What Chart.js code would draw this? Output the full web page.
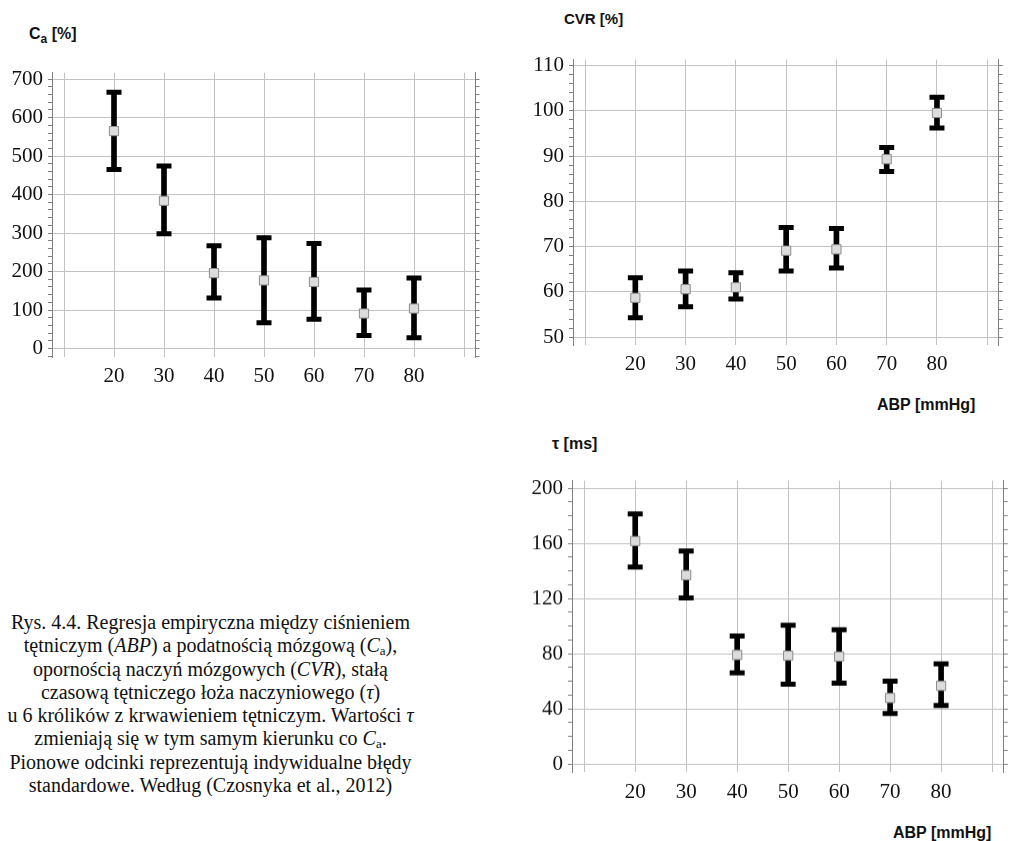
<!DOCTYPE html>
<html>
<head>
<meta charset="utf-8">
<script src="https://cdn.jsdelivr.net/npm/chart.js@4/dist/chart.umd.min.js"></script>
<style>
  body { margin: 0; background: #fff; width: 1011px; height: 841px; overflow: hidden; position: relative; }
  .box { position: absolute; }
  .lbl { position: absolute; font-family: "Liberation Sans", Arial, sans-serif; font-weight: bold; font-size: 15px; color: #111; white-space: nowrap; }
  .lbl sub { font-size: 12px; vertical-align: -4px; line-height: 0; }
  #caption { position: absolute; left: 0; top: 611px; width: 421px; text-align: center;
    font-family: "Liberation Serif", "Times New Roman", serif; font-size: 20px; line-height: 23.3px; color: #111; }
  #caption sub { font-size: 13px; vertical-align: -3px; line-height: 0; }
</style>
</head>
<body>

<div class="box" id="b1" style="left:4px; top:55px; width:484px; height:342px;"><canvas id="caChart"></canvas></div>
<div class="box" id="b2" style="left:524.7px; top:41.7px; width:486.3px; height:343.3px;"><canvas id="cvrChart"></canvas></div>
<div class="box" id="b3" style="left:523.7px; top:463.3px; width:492.3px; height:348.4px;"><canvas id="tauChart"></canvas></div>

<div class="lbl" style="left:29px; top:25px; font-size:16px;">C<sub>a</sub> [%]</div>
<div class="lbl" style="left:564px; top:10px;">CVR [%]</div>
<div class="lbl" style="left:552px; top:435px; font-size:16px;">τ [ms]</div>
<div class="lbl" style="left:877px; top:396px; font-size:16px;">ABP [mmHg]</div>
<div class="lbl" style="left:893px; top:824px; font-size:16px;">ABP [mmHg]</div>

<div id="caption">
  Rys. 4.4. Regresja empiryczna między ciśnieniem<br>
  tętniczym (<i>ABP</i>) a podatnością mózgową (<i>C</i><sub>a</sub>),<br>
  opornością naczyń mózgowych (<i>CVR</i>), stałą<br>
  czasową tętniczego łoża naczyniowego (<i>τ</i>)<br>
  u 6 królików z krwawieniem tętniczym. Wartości <i>τ</i><br>
  zmieniają się w tym samym kierunku co <i>C</i><sub>a</sub>.<br>
  Pionowe odcinki reprezentują indywidualne błędy<br>
  standardowe. Według (Czosnyka et al., 2012)
</div>

<script>
// ABP [mmHg]
const abp = [20, 30, 40, 50, 60, 70, 80];
const xGrid = [10, 20, 30, 40, 50, 60, 70, 80, 90];

// Ca [%]
const caMean = [565, 384, 196, 177, 173, 91, 104];
const caLow  = [465, 298, 131, 67, 76, 34, 28];
const caHigh = [666, 474, 267, 288, 273, 152, 183];
const caTicks = [0, 100, 200, 300, 400, 500, 600, 700];

// CVR [%]
const cvrMean = [58.7, 60.6, 61.0, 69.1, 69.4, 89.3, 99.5];
const cvrLow  = [54.3, 56.7, 58.4, 64.6, 65.3, 86.6, 96.2];
const cvrHigh = [63.1, 64.6, 64.2, 74.2, 74.0, 91.9, 103.0];
const cvrTicks = [50, 60, 70, 80, 90, 100, 110];

// tau [ms]
const tauMean = [161.7, 137, 79.1, 78.6, 78, 47.9, 56.7];
const tauLow  = [142.9, 120.4, 66.1, 57.9, 58.6, 36.6, 42.5];
const tauHigh = [181.3, 154.4, 92.8, 100.6, 97.3, 60.2, 72.7];
const tauTicks = [0, 40, 80, 120, 160, 200];

const gridColor = "#c2c2c2";
const axisColor = "#808080";
const tickFont = { family: "'Liberation Serif', 'Times New Roman', serif", size: 21 };

// podzialka pomocnicza (co step) w zakresie osi
function minorValues(min, max, step) {
  const out = [];
  for (let k = Math.ceil(min / step); k <= Math.floor(max / step); k++) out.push(+(k * step).toFixed(6));
  return out;
}

function errorChart(id, mean, low, high, yMin, yMax, major, minorStep) {
  const isMajor = v => major.some(m => Math.abs(m - v) < 1e-6);
  const yVals = minorValues(yMin, yMax, minorStep);

  return new Chart(document.getElementById(id), {
    type: "scatter",
    data: {
      datasets: [
        {
          label: "srednia",
          data: abp.map((x, i) => ({ x, y: mean[i] })),
          pointStyle: "rect",
          pointRadius: 6.5,
          pointBackgroundColor: "#dcdcdc",
          pointBorderColor: "#8c8c8c",
          pointBorderWidth: 1,
          order: 0
        },
        {
          label: "gorny",
          data: abp.map((x, i) => ({ x, y: high[i] })),
          pointStyle: "line",
          pointRadius: 7.5,
          pointBorderColor: "#000",
          pointBorderWidth: 5,
          order: 1
        },
        {
          label: "dolny",
          data: abp.map((x, i) => ({ x, y: low[i] })),
          pointStyle: "line",
          pointRadius: 7.5,
          pointBorderColor: "#000",
          pointBorderWidth: 5,
          order: 1
        },
        {
          type: "bar",
          label: "blad",
          data: abp.map((x, i) => ({ x, y: [low[i], high[i]] })),
          backgroundColor: "#000",
          barThickness: 5,
          grouped: false,
          borderSkipped: false,
          order: 2
        }
      ]
    },
    options: {
      responsive: true,
      maintainAspectRatio: false,
      animation: false,
      layout: { padding: { top: 10, left: 0, right: 0, bottom: 0 } },
      plugins: { legend: { display: false }, tooltip: { enabled: false } },
      scales: {
        x: {
          type: "linear",
          min: 7.6,
          max: 92.3,
          offset: false,
          afterBuildTicks: s => { s.ticks = xGrid.map(v => ({ value: v })); },
          afterFit: s => { s.height = 40; },
          grid: { color: gridColor, drawTicks: false, offset: false },
          border: { display: false },
          ticks: {
            autoSkip: false,
            maxRotation: 0,
            padding: 7,
            color: "#111",
            font: tickFont,
            callback: v => abp.includes(v) ? String(v) : ""
          }
        },
        y: {
          type: "linear",
          position: "left",
          min: yMin,
          max: yMax,
          beginAtZero: false,
          afterBuildTicks: s => { s.ticks = yVals.map(v => ({ value: v })); },
          afterFit: s => { s.width = 48; },
          grid: {
            color: c => isMajor(c.tick.value) ? gridColor : "rgba(0,0,0,0)",
            tickColor: axisColor,
            tickLength: 4
          },
          border: { display: true, color: axisColor },
          ticks: {
            autoSkip: false,
            padding: 5,
            color: "#111",
            font: tickFont,
            callback: v => isMajor(v) ? String(v) : ""
          }
        },
        yr: {
          type: "linear",
          position: "right",
          min: yMin,
          max: yMax,
          afterBuildTicks: s => { s.ticks = yVals.map(v => ({ value: v })); },
          afterFit: s => { s.width = 6; },
          grid: { drawOnChartArea: false, tickColor: axisColor, tickLength: 4 },
          border: { display: true, color: axisColor },
          ticks: { display: false }
        }
      }
    }
  });
}

errorChart("caChart", caMean, caLow, caHigh, -22, 717, caTicks, 20);
errorChart("cvrChart", cvrMean, cvrLow, cvrHigh, 48.2, 111.3, cvrTicks, 2);
errorChart("tauChart", tauMean, tauLow, tauHigh, -6, 205.5, tauTicks, 10);
</script>
</body>
</html>
